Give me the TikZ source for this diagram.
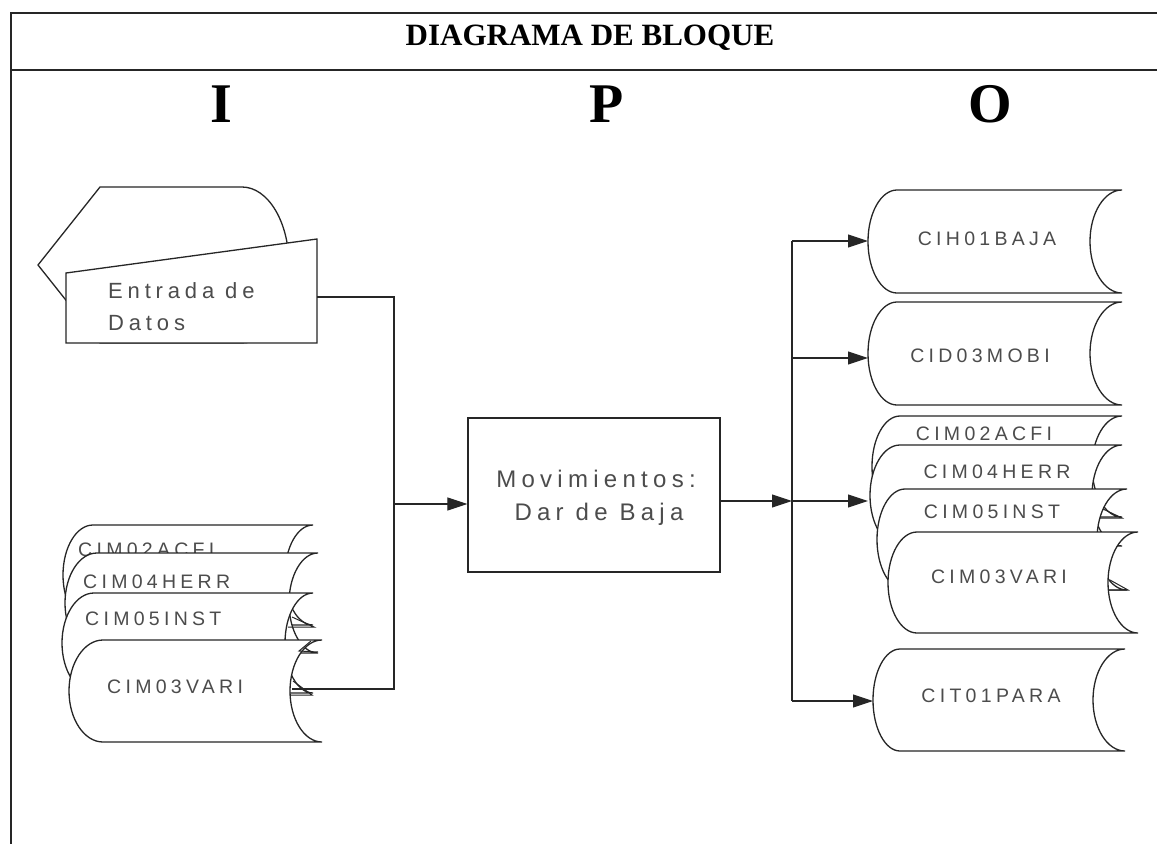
\documentclass[tikz,border=0pt]{standalone}
\usepackage{fontspec}
\setmainfont{Liberation Serif}
\newfontfamily\labfont[LetterSpace=22]{Liberation Sans}
\usetikzlibrary{arrows.meta}
\tikzset{
  dline/.style={line width=1.3pt, black!85},
  conn/.style={line width=1.1pt, black!85},
  arrowc/.style={conn, -{Triangle[length=20pt,width=13pt]}},
  lab/.style={inner sep=0pt, text=black!70, font=\labfont\fontsize{19.5}{22}\selectfont},
  bigtxt/.style={inner sep=0pt, text=black!70, font=\labfont\fontsize{22}{24}\selectfont},
  tickmark/.style={line width=1pt, black!85},
}
% #1 L (leftmost x), #2 top y, #3 right x, #4 height, #5 left depth, #6 right depth
\newcommand\datafile[6]{%
  \draw[dline,fill=white] ({#1+#5},#2) -- (#3,#2)
    arc[start angle=270,end angle=90,x radius=#6,y radius=#4/2]
    -- ({#1+#5},{#2+#4})
    arc[start angle=90,end angle=270,x radius=#5,y radius=#4/2] -- cycle;
}
\begin{document}
\begin{tikzpicture}[x=1pt,y=-1pt]
\useasboundingbox (0,0) rectangle (1157,844);
\fill[white] (0,0) rectangle (1157,844);
% frame
\draw[line width=2pt, black!85] (11,13) -- (1157,13);
\draw[line width=1.8pt, black!85] (11,70) -- (1157,70);
\draw[line width=1.4pt, black!85] (11,12) -- (11,844);
\node[anchor=base, inner sep=0pt, font=\bfseries\fontsize{31}{34}\selectfont] (title) at (590,45) {DIAGRAMA DE BLOQUE};
\node[anchor=base, inner sep=0pt, font=\bfseries\fontsize{56}{60}\selectfont] (hI) at (221,122) {I};
\node[anchor=base, inner sep=0pt, font=\bfseries\fontsize{56}{60}\selectfont] (hP) at (607,122) {P};
\node[anchor=base, inner sep=0pt, font=\bfseries\fontsize{56}{60}\selectfont] (hO) at (990,122) {O};

% ---------- input: display + manual input ----------
\draw[dline,fill=white] (100,187) -- (242,187)
   arc[start angle=270,end angle=450,x radius=47,y radius=78]
   -- (100,343) -- (38,265) -- cycle;
\draw[dline,fill=white] (66,273) -- (317,239) -- (317,343) -- (66,343) -- cycle;
\node[bigtxt, anchor=base west] (ent1) at (108,298) {Entrada de};
\node[bigtxt, anchor=base west] (ent2) at (108,330) {Datos};

% ---------- left stack ----------
\datafile{63}{525}{313}{100}{30}{28}
\node[lab, anchor=base west] (lacfi) at (78,556) {CIM02ACFI};
\datafile{65}{553}{318}{100}{32}{29}
\node[lab, anchor=base west] (lherr) at (83,588) {CIM04HERR};
\datafile{62}{593}{313}{100}{32}{28}
\node[lab, anchor=base west] (linst) at (85,625) {CIM05INST};
\draw[tickmark] (292,617) -- (314,627) -- (288,627);
\datafile{69}{640}{322}{102}{34}{32}
\node[lab, anchor=base west] (lvari) at (107,693) {CIM03VARI};
\draw[tickmark] (311,641) -- (299,651) -- (318,652);
\draw[tickmark] (293,681) -- (312,695) -- (291,695);

% ---------- process ----------
\node[draw, dline, minimum width=252pt, minimum height=154pt, inner sep=0pt] (proc) at (594,495) {};
\node[inner sep=0pt, anchor=base, text=black!70, font=\labfont\fontsize{24}{26}\selectfont] (mov1) at (596,487) {Movimientos:};
\node[inner sep=0pt, anchor=base, text=black!70, font=\labfont\fontsize{24}{26}\selectfont] (mov2) at (599,520) {Dar de Baja};

% ---------- right side ----------
\datafile{868}{190}{1122}{103}{29}{32}
\node[lab, anchor=base] (baja) at (987,245) {CIH01BAJA};
\datafile{868}{302}{1122}{103}{29}{32}
\node[lab, anchor=base] (mobi) at (980,362) {CID03MOBI};
\datafile{872}{416}{1122}{101}{28}{30}
\node[lab, anchor=base] (racfi) at (984,440) {CIM02ACFI};
\datafile{870}{445}{1122}{101}{30}{30}
\node[lab, anchor=base] (rherr) at (997,478) {CIM04HERR};
\datafile{877}{489}{1127}{101}{28}{30}
\node[lab, anchor=base] (rinst) at (992,518) {CIM05INST};
\draw[tickmark] (1103,509) -- (1122,518) -- (1100,518);
\datafile{888}{532}{1138}{101}{29}{30}
\node[lab, anchor=base] (rvari) at (999,583) {CIM03VARI};
\draw[tickmark] (1110,580) -- (1128,590) -- (1108,590);
\datafile{873}{649}{1125}{102}{27}{32}
\node[lab, anchor=base] (para) at (991,702) {CIT01PARA};

% ---------- connectors ----------
\coordinate (inA) at (317,297);
\coordinate (inB) at (292,689);
\coordinate (jL) at (394,504);
\draw[conn] (inA) -| (jL);
\draw[conn] (inB) -| (jL);
\draw[arrowc] (jL) -- (jL -| proc.west);

\coordinate (jR) at (792,501);
\coordinate (rtop) at (792,241);
\coordinate (rmobi) at (792,358);
\coordinate (rbot) at (792,701);
\coordinate (tBaja) at (868,241);
\coordinate (tMobi) at (868,358);
\coordinate (tStack) at (868,501);
\coordinate (tPara) at (873,701);
\draw[conn] (rtop) -- (rbot);
\draw[arrowc] (proc.east |- jR) -- (jR);
\draw[arrowc] (rtop) -- (tBaja);
\draw[arrowc] (rmobi) -- (tMobi);
\draw[arrowc] (jR) -- (tStack);
\draw[arrowc] (rbot) -- (tPara);
\end{tikzpicture}
\end{document}
